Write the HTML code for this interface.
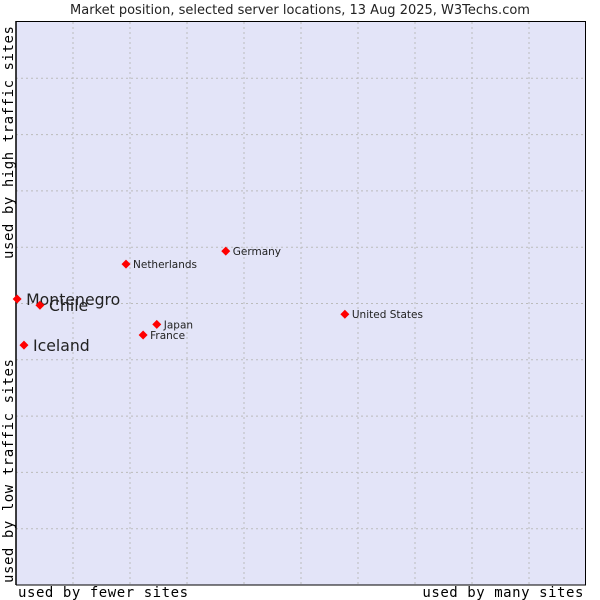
<!DOCTYPE html>
<html><head><meta charset="utf-8"><style>
body{margin:0;background:#fff;width:600px;height:600px;overflow:hidden}
svg{display:block}
</style></head><body>
<svg id="chart" width="600" height="600">
<text x="300" y="14" text-anchor="middle" font-family="DejaVu Sans, sans-serif" font-size="13" fill="#222">Market position, selected server locations, 13 Aug 2025, W3Techs.com</text>
<rect x="16" y="22" width="570" height="563" fill="#e3e4f8"/>
<g id="grid"></g>
<line x1="16" y1="21" x2="16" y2="585" stroke="#000" stroke-width="1.5"/>
<line x1="16" y1="21.5" x2="586" y2="21.5" stroke="#000"/>
<line x1="16" y1="585" x2="586" y2="585" stroke="#000"/>
<line x1="585.5" y1="21" x2="585.5" y2="585" stroke="#000"/>
<g id="points"></g>
<text x="18" y="597" font-family="DejaVu Sans Mono, Liberation Mono, monospace" font-size="14" letter-spacing="0.55" fill="#000">used by fewer sites</text>
<text x="584" y="597" text-anchor="end" font-family="DejaVu Sans Mono, Liberation Mono, monospace" font-size="14" letter-spacing="0.55" fill="#000">used by many sites</text>
<text transform="translate(13,583) rotate(-90)" font-family="DejaVu Sans Mono, Liberation Mono, monospace" font-size="14" letter-spacing="0.55" fill="#000">used by low traffic sites</text>
<text transform="translate(13,259) rotate(-90)" font-family="DejaVu Sans Mono, Liberation Mono, monospace" font-size="14" letter-spacing="0.55" fill="#000">used by high traffic sites</text>
</svg>
<script>
const countries=["Montenegro","Chile","Iceland","Netherlands","Germany","Japan","France","United States"];
const xValues=[0.2,4.2,1.4,19.3,36.8,24.7,22.3,57.7];
const yValues=[50.8,49.7,42.6,57.0,59.3,46.3,44.4,48.1];
const highlighted=[true,true,true,false,false,false,false,false];
const NS="http://www.w3.org/2000/svg";
const X0=16,X1=586,Y0=585,Y1=22;
const sx=v=>X0+v/100*(X1-X0);
const sy=v=>Y0-v/100*(Y0-Y1);
const grid=document.getElementById('grid');
for(let i=1;i<10;i++){
  const l=document.createElementNS(NS,'line');
  
  
  const x=sx(i*10);
  l.setAttribute('x1',x);l.setAttribute('x2',x);l.setAttribute('y1',Y1);l.setAttribute('y2',Y0);
  l.setAttribute('stroke','#bbb');l.setAttribute('stroke-dasharray','2,3');
  grid.appendChild(l);
  const h=document.createElementNS(NS,'line');
  
  
  const y=sy(i*10);
  h.setAttribute('x1',X0);h.setAttribute('x2',X1);h.setAttribute('y1',y);h.setAttribute('y2',y);
  h.setAttribute('stroke','#bbb');h.setAttribute('stroke-dasharray','2,3');
  grid.appendChild(h);
}
const pts=document.getElementById('points');
countries.forEach((c,i)=>{
  const x=sx(xValues[i]),y=sy(yValues[i]);
  const p=document.createElementNS(NS,'polygon');
  
  
  p.setAttribute('points',`${x},${y-4.5} ${x+4.5},${y} ${x},${y+4.5} ${x-4.5},${y}`);
  p.setAttribute('fill','#f00');
  pts.appendChild(p);
  const t=document.createElementNS(NS,'text');
  
  
  const big=highlighted[i];
  t.setAttribute('x',x+(big?9:7));
  t.setAttribute('y',y+(big?6:4));
  t.setAttribute('font-family','DejaVu Sans, sans-serif');
  t.setAttribute('font-size',big?15.7:10.5);
  t.setAttribute('fill','#222');
  t.textContent=c;
  pts.appendChild(t);
});
</script>
</body></html>
